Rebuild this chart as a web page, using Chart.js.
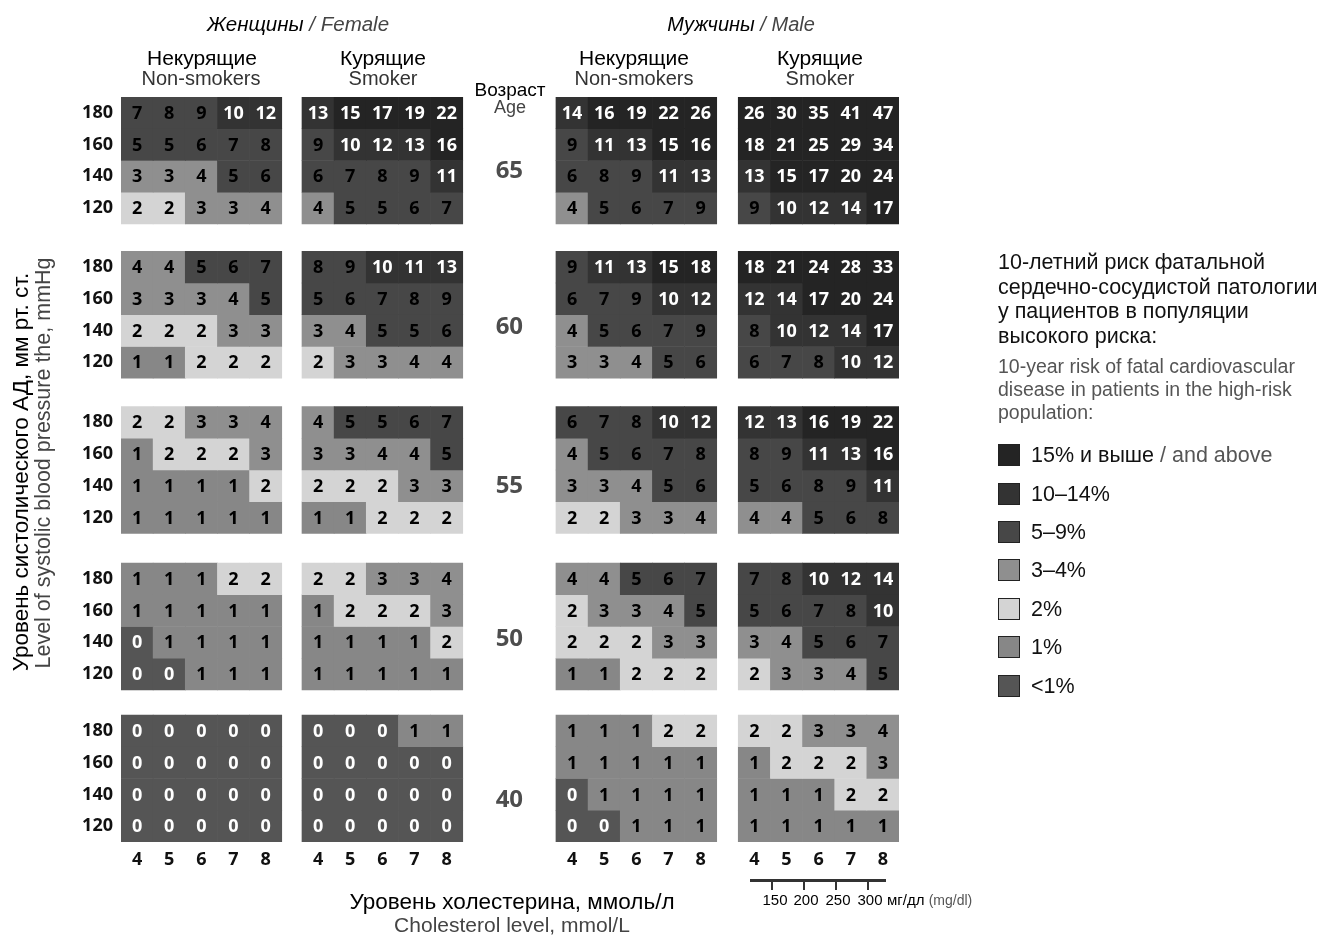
<!DOCTYPE html>
<html>
<head>
<meta charset="utf-8">
<script src="https://cdn.jsdelivr.net/npm/chart.js@4.4.1/dist/chart.umd.min.js"></script>
<style>
  body { margin: 0; background: #fff; font-family: "Liberation Sans", Arial, sans-serif; }
  #wrap { position: relative; width: 1336px; height: 935px; overflow: hidden; }
  #chart { position: absolute; left: 0; top: 0; }
  .t { position: absolute; white-space: nowrap; line-height: 1; transform: translate(-50%, -50%); }
  .g { color: #444; }
  .rot { transform: translate(-50%, -50%) rotate(-90deg); }
  #legend { position: absolute; left: 998px; top: 250px; }
  #legend .ru { font-size: 21.5px; line-height: 24.5px; color: #111; }
  #legend .en { font-size: 19.5px; line-height: 23px; color: #555; margin-top: 7px; }
  #legend .item { position: absolute; left: 0; height: 22px; display: flex; align-items: center; font-size: 21.5px; color: #111; white-space: nowrap; }
  #legend .sw { width: 20px; height: 20px; border: 1px solid #222; margin-right: 11px; }
  .bar { position: absolute; background: #333; }
</style>
</head>
<body>
<div id="wrap">
  <canvas id="chart" width="1336" height="935"></canvas>

  <div class="t" style="left:298px;top:24px;font-size:20.5px;font-style:italic">Женщины <span class="g">/ Female</span></div>
  <div class="t" style="left:741px;top:24px;font-size:20px;font-style:italic">Мужчины <span class="g">/ Male</span></div>

  <div class="t" style="left:202px;top:57px;font-size:21px">Некурящие</div>
  <div class="t" style="left:201px;top:78px;font-size:20px;color:#333">Non-smokers</div>
  <div class="t" style="left:383px;top:57px;font-size:21px">Курящие</div>
  <div class="t" style="left:383px;top:78px;font-size:20px;color:#333">Smoker</div>
  <div class="t" style="left:634px;top:57px;font-size:21px">Некурящие</div>
  <div class="t" style="left:634px;top:78px;font-size:20px;color:#333">Non-smokers</div>
  <div class="t" style="left:820px;top:57px;font-size:21px">Курящие</div>
  <div class="t" style="left:820px;top:78px;font-size:20px;color:#333">Smoker</div>

  <div class="t" style="left:510px;top:89px;font-size:19px">Возраст</div>
  <div class="t" style="left:510px;top:107px;font-size:18px;color:#444">Age</div>

  <div class="t rot" style="left:21px;top:472px;font-size:22.5px">Уровень систолического АД, мм рт. ст.</div>
  <div class="t rot" style="left:44px;top:463px;font-size:21.5px;color:#444">Level of systolic blood pressure the, mmHg</div>

  <div class="t" style="left:512px;top:902px;font-size:22.5px">Уровень холестерина, ммоль/л</div>
  <div class="t" style="left:512px;top:924px;font-size:21px;color:#444">Cholesterol level, mmol/L</div>

  <div class="bar" style="left:750px;top:879px;width:136px;height:3px"></div>
  <div class="bar" style="left:771px;top:880px;width:2px;height:10px"></div>
  <div class="bar" style="left:803px;top:880px;width:2px;height:10px"></div>
  <div class="bar" style="left:835px;top:880px;width:2px;height:10px"></div>
  <div class="bar" style="left:867px;top:880px;width:2px;height:10px"></div>
  <div class="t" style="left:775px;top:899px;font-size:15px">150</div>
  <div class="t" style="left:806px;top:899px;font-size:15px">200</div>
  <div class="t" style="left:838px;top:899px;font-size:15px">250</div>
  <div class="t" style="left:870px;top:899px;font-size:15px">300</div>
  <div class="t" style="left:887px;top:899px;font-size:15px;transform:translate(0,-50%)">мг/дл <span style="color:#555;font-size:14px">(mg/dl)</span></div>

  <div id="legend">
    <div class="ru">10-летний риск фатальной<br>сердечно-сосудистой патологии<br>у пациентов в популяции<br>высокого риска:</div>
    <div class="en">10-year risk of fatal cardiovascular<br>disease in patients in the high-risk<br>population:</div>
  </div>
</div>

<script>
// возраст, САД, холестерин
const ages = [65, 60, 55, 50, 40];
const sbpLevels = [180, 160, 140, 120];
const cholLevels = [4, 5, 6, 7, 8];

// для каждого возраста: строки 180, 160, 140, 120
const femaleNonSmoker = [
  [[7, 8, 9, 10, 12], [5, 5, 6, 7, 8], [3, 3, 4, 5, 6], [2, 2, 3, 3, 4]],
  [[4, 4, 5, 6, 7], [3, 3, 3, 4, 5], [2, 2, 2, 3, 3], [1, 1, 2, 2, 2]],
  [[2, 2, 3, 3, 4], [1, 2, 2, 2, 3], [1, 1, 1, 1, 2], [1, 1, 1, 1, 1]],
  [[1, 1, 1, 2, 2], [1, 1, 1, 1, 1], [0, 1, 1, 1, 1], [0, 0, 1, 1, 1]],
  [[0, 0, 0, 0, 0], [0, 0, 0, 0, 0], [0, 0, 0, 0, 0], [0, 0, 0, 0, 0]],
];
const femaleSmoker = [
  [[13, 15, 17, 19, 22], [9, 10, 12, 13, 16], [6, 7, 8, 9, 11], [4, 5, 5, 6, 7]],
  [[8, 9, 10, 11, 13], [5, 6, 7, 8, 9], [3, 4, 5, 5, 6], [2, 3, 3, 4, 4]],
  [[4, 5, 5, 6, 7], [3, 3, 4, 4, 5], [2, 2, 2, 3, 3], [1, 1, 2, 2, 2]],
  [[2, 2, 3, 3, 4], [1, 2, 2, 2, 3], [1, 1, 1, 1, 2], [1, 1, 1, 1, 1]],
  [[0, 0, 0, 1, 1], [0, 0, 0, 0, 0], [0, 0, 0, 0, 0], [0, 0, 0, 0, 0]],
];
const maleNonSmoker = [
  [[14, 16, 19, 22, 26], [9, 11, 13, 15, 16], [6, 8, 9, 11, 13], [4, 5, 6, 7, 9]],
  [[9, 11, 13, 15, 18], [6, 7, 9, 10, 12], [4, 5, 6, 7, 9], [3, 3, 4, 5, 6]],
  [[6, 7, 8, 10, 12], [4, 5, 6, 7, 8], [3, 3, 4, 5, 6], [2, 2, 3, 3, 4]],
  [[4, 4, 5, 6, 7], [2, 3, 3, 4, 5], [2, 2, 2, 3, 3], [1, 1, 2, 2, 2]],
  [[1, 1, 1, 2, 2], [1, 1, 1, 1, 1], [0, 1, 1, 1, 1], [0, 0, 1, 1, 1]],
];
const maleSmoker = [
  [[26, 30, 35, 41, 47], [18, 21, 25, 29, 34], [13, 15, 17, 20, 24], [9, 10, 12, 14, 17]],
  [[18, 21, 24, 28, 33], [12, 14, 17, 20, 24], [8, 10, 12, 14, 17], [6, 7, 8, 10, 12]],
  [[12, 13, 16, 19, 22], [8, 9, 11, 13, 16], [5, 6, 8, 9, 11], [4, 4, 5, 6, 8]],
  [[7, 8, 10, 12, 14], [5, 6, 7, 8, 10], [3, 4, 5, 6, 7], [2, 3, 3, 4, 5]],
  [[2, 2, 3, 3, 4], [1, 2, 2, 2, 3], [1, 1, 1, 2, 2], [1, 1, 1, 1, 1]],
];

// категории риска
const bandLabels = ["15% и выше", "10–14%", "5–9%", "3–4%", "2%", "1%", "<1%"];
const bandMin = [15, 10, 5, 3, 2, 1, 0];
const bandColors = ["#242424", "#333333", "#474747", "#8f8f8f", "#d4d4d4", "#878787", "#555555"];
const bandTextColors = ["#fff", "#fff", "#000", "#000", "#000", "#000", "#fff"];

// раскладка сетки (в единицах ячеек)
const groups = [femaleNonSmoker, femaleSmoker, maleNonSmoker, maleSmoker];
const colOffset = [0, 5.63, 13.53, 19.2];
const blockOffset = [0, 4.86, 9.75, 14.68, 19.47];
const ageRowPos = [1.83, 1.88, 2.0, 1.89, 2.17];

function bandOf(v) {
  for (let i = 0; i < bandMin.length; i++) if (v >= bandMin[i]) return i;
  return bandMin.length - 1;
}

const datasets = bandLabels.map((label, b) => ({
  label,
  data: [],
  backgroundColor: bandColors[b],
  textColor: bandTextColors[b],
  borderWidth: 0,
  grouped: false,
  barPercentage: 1,
  categoryPercentage: 1,
}));

groups.forEach((grp, g) => {
  grp.forEach((block, a) => {
    block.forEach((row, r) => {
      row.forEach((v, c) => {
        const y0 = blockOffset[a] + r;
        datasets[bandOf(v)].data.push({ x: colOffset[g] + c, y: [y0 - 0.5, y0 + 0.5], v });
      });
    });
  });
});

const cellText = {
  id: "cellText",
  afterDatasetsDraw(chart) {
    const ctx = chart.ctx;
    ctx.save();
    ctx.textAlign = "center";
    ctx.textBaseline = "middle";
    ctx.font = 'bold 18px "Open Sans"';
    chart.data.datasets.forEach((ds, i) => {
      ctx.fillStyle = ds.textColor;
      chart.getDatasetMeta(i).data.forEach((bar, j) => {
        const { x, y, base } = bar.getProps(["x", "y", "base"], true);
        ctx.fillText(String(ds.data[j].v), x, (y + base) / 2 + 1);
      });
    });

    // возраст между женскими и мужскими таблицами
    const xs = chart.scales.x, ys = chart.scales.y;
    const ax = (xs.getPixelForValue(colOffset[1] + 4.5) + xs.getPixelForValue(colOffset[2] - 0.5)) / 2;
    ctx.font = 'bold 24px "Open Sans"';
    ctx.fillStyle = "#4d4d4d";
    ages.forEach((age, a) => {
      ctx.fillText(String(age), ax, ys.getPixelForValue(blockOffset[a] + ageRowPos[a]));
    });
    ctx.restore();
  },
};

new Chart(document.getElementById("chart"), {
  type: "bar",
  data: { datasets },
  options: {
    responsive: false,
    animation: false,
    devicePixelRatio: 1,
    layout: { padding: { top: 97, right: 437, bottom: 57, left: 0 } },
    plugins: { legend: { display: false }, tooltip: { enabled: false } },
    scales: {
      x: {
        type: "linear",
        min: -0.5,
        max: colOffset[3] + 4.5,
        bounds: "data",
        offset: false,
        grid: { display: false, drawTicks: false },
        border: { display: false },
        afterFit: (s) => { s.height = 36; },
        afterBuildTicks: (s) => {
          s.ticks = [];
          colOffset.forEach((o) => cholLevels.forEach((_, c) => s.ticks.push({ value: o + c })));
        },
        ticks: {
          autoSkip: false,
          maxRotation: 0,
          padding: 7,
          color: "#111",
          font: { family: "Open Sans", weight: "bold", size: 18 },
          callback: (v, i) => String(cholLevels[i % cholLevels.length]),
        },
      },
      y: {
        type: "linear",
        reverse: true,
        min: -0.5,
        max: blockOffset[4] + 3.5,
        bounds: "data",
        offset: false,
        grid: { display: false, drawTicks: false },
        border: { display: false },
        afterFit: (s) => { s.width = 121; },
        afterBuildTicks: (s) => {
          s.ticks = [];
          blockOffset.forEach((o) => sbpLevels.forEach((_, r) => s.ticks.push({ value: o + r })));
        },
        ticks: {
          autoSkip: false,
          padding: 8,
          color: "#111",
          font: { family: "Open Sans", weight: "bold", size: 18 },
          callback: (v, i) => String(sbpLevels[i % sbpLevels.length]),
        },
      },
    },
  },
  plugins: [cellText],
});

// легенда из тех же категорий
const legend = document.getElementById("legend");
const itemTop = [205, 244, 282, 320, 359, 397, 436];
bandLabels.forEach((label, b) => {
  const item = document.createElement("div");
  item.className = "item";
  item.style.top = itemTop[b] - 11 + "px";
  const sw = document.createElement("div");
  sw.className = "sw";
  sw.style.background = bandColors[b];
  item.appendChild(sw);
  const txt = document.createElement("span");
  txt.textContent = label;
  item.appendChild(txt);
  if (b === 0) {
    const en = document.createElement("span");
    en.style.color = "#555";
    en.textContent = "\u00a0/ and above";
    item.appendChild(en);
  }
  legend.appendChild(item);
});
</script>
</body>
</html>
